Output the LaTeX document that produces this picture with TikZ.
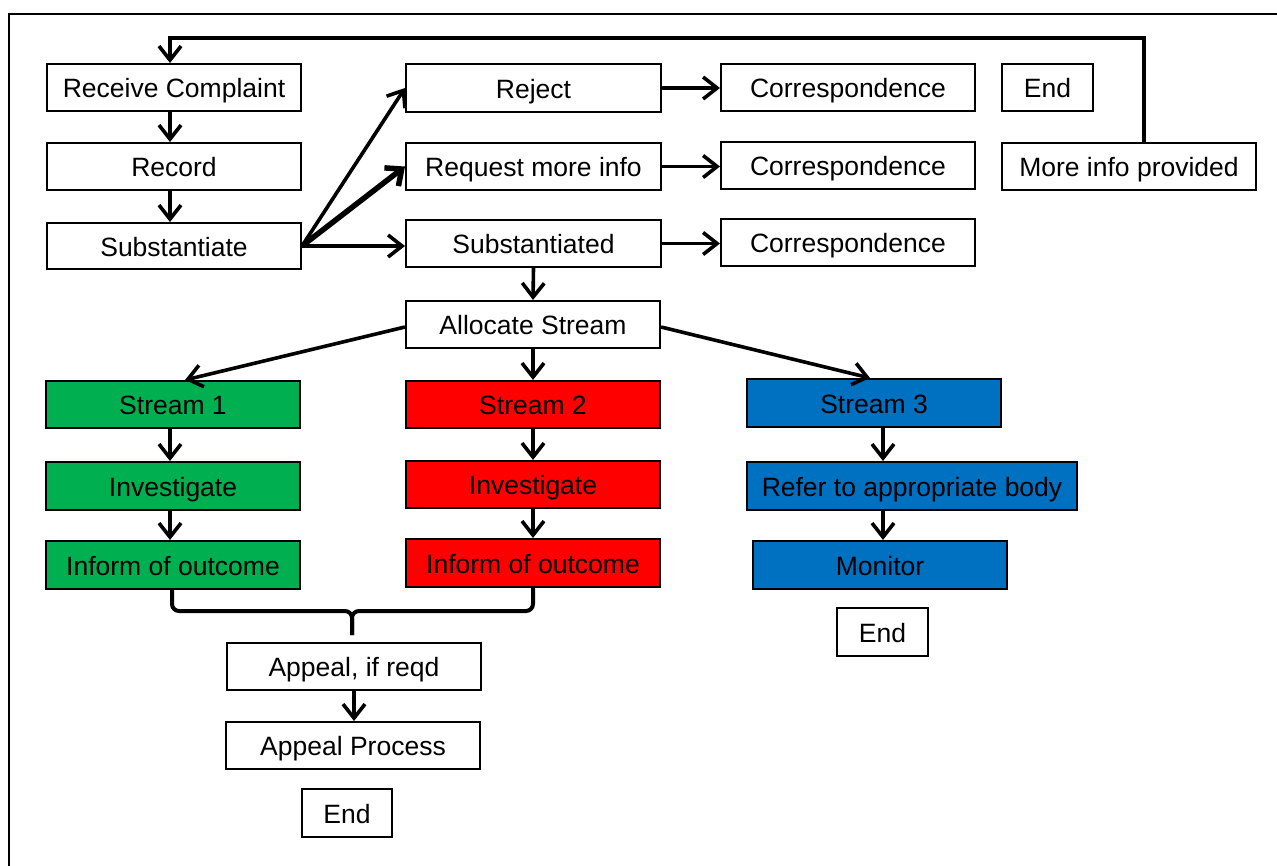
\documentclass[tikz,border=0pt]{standalone}
\usepackage{fontspec}
\setmainfont{Liberation Sans}
\usetikzlibrary{arrows.meta,calc}
\definecolor{sgreen}{HTML}{00B050}
\definecolor{sred}{HTML}{FF0000}
\definecolor{sblue}{HTML}{0070C0}
\begin{document}
\begin{tikzpicture}[x=1pt,y=-1pt,
  box/.style={draw=black, line width=2pt, fill=white, inner sep=0pt,
    minimum width=254pt, minimum height=47pt, text height=20pt, text depth=0pt,
    font=\fontsize{26.5pt}{31pt}\selectfont},
  gbox/.style={box, fill=sgreen},
  rbox/.style={box, fill=sred},
  bbox/.style={box, fill=sblue},
  arr/.style={line width=3.6pt, -{Straight Barb[length=14pt,width=22pt]}},
  thickarr/.style={line width=5.5pt, -{Straight Barb[length=13pt,width=23pt]}},
  bracket/.style={line width=4pt, rounded corners=7pt},
  frame/.style={line width=2.4pt}]
\useasboundingbox (0,0) rectangle (1277,865);
\fill[white] (0,0) rectangle (1277,865);

% outer frame (cut off at right and bottom)
\draw[frame] (9,880) -- (9,14) -- (1290,14);

% top row
\node[box] (rc)   at (174,87.5)  {Receive Complaint};
\node[box] (rec)  at (174,166.5) {Record};
\node[box, minimum height=46pt] (sub) at (174,246) {Substantiate};
\node[box, minimum width=255pt, minimum height=48pt] (rej) at (533.5,88) {Reject};
\node[box, minimum width=255pt] (req) at (533.5,166.5) {Request more info};
\node[box, minimum width=255pt] (subd) at (533.5,243.5) {Substantiated};
\node[box] (c1) at (848,87.5)  {Correspondence};
\node[box] (c2) at (848,165.5) {Correspondence};
\node[box] (c3) at (848,242.5) {Correspondence};
\node[box, minimum width=91pt] (end1) at (1047.5,87.5) {End};
\node[box] (more) at (1129,166.5) {More info provided};

% allocation
\node[box] (alloc) at (533,324.5) {Allocate Stream};

% streams
\node[gbox] (s1)   at (173,404.5) {Stream 1};
\node[gbox, minimum height=48pt] (inv1) at (173,486) {Investigate};
\node[gbox, minimum height=48pt] (inf1) at (173,565) {Inform of outcome};
\node[rbox] (s2)   at (533,404.5) {Stream 2};
\node[rbox] (inv2) at (533,484.5) {Investigate};
\node[rbox, minimum height=48pt] (inf2) at (533,563) {Inform of outcome};
\node[bbox, minimum height=48pt] (s3)  at (874,403) {Stream 3};
\node[bbox, minimum width=330pt, minimum height=48pt] (ref) at (912,486) {Refer to appropriate body};
\node[bbox, minimum height=48pt] (mon) at (880,565) {Monitor};
\node[box, minimum width=91pt, minimum height=48pt] (end2) at (882.5,632) {End};

% appeal
\node[box] (app)  at (354,666.5) {Appeal, if reqd};
\node[box] (appp) at (353,745.5) {Appeal Process};
\node[box, minimum width=90pt, minimum height=48pt] (end3) at (347,813) {End};

% feedback loop
\coordinate (fbr) at (1144,38);
\coordinate (fbl) at (170,38);
\draw[arr, line join=miter] (more.north -| fbr) -- (fbr) -- (fbl) -- (rc.north -| fbl);

% left column
\coordinate (lc) at (170,0);
\draw[arr] (rc.south -| lc) -- (rec.north -| lc);
\draw[arr] (rec.south -| lc) -- (sub.north -| lc);

% from substantiate
\draw[arr] (sub.east) -- (rej.west);
\draw[thickarr] (sub.east) -- (req.west);
\draw[arr] (sub.east) -- (sub.east -| subd.west);

% to correspondence
\draw[arr] (rej.east) -- (rej.east -| c1.west);
\draw[arr] (req.east) -- (req.east -| c2.west);
\draw[arr] (subd.east) -- (subd.east -| c3.west);

% to allocation
\draw[arr] (subd.south) -- (alloc.north);

% allocation to streams
\draw[arr] ($(alloc.west)+(0,2.5)$) -- ($(s1.north)+(12,0)$);
\draw[arr] (alloc.south) -- (s2.north);
\draw[arr] ($(alloc.east)+(0,2.5)$) -- ($(s3.north)+(-4,0)$);

% stream 1
\draw[arr] (s1.south -| lc) -- (inv1.north -| lc);
\draw[arr] (inv1.south -| lc) -- (inf1.north -| lc);
% stream 2
\draw[arr] (s2.south) -- (inv2.north);
\draw[arr] (inv2.south) -- (inf2.north);
% stream 3
\coordinate (c3x) at (883,0);
\draw[arr] (s3.south -| c3x) -- (ref.north -| c3x);
\draw[arr] (ref.south -| c3x) -- (mon.north -| c3x);

% bracket joining streams 1 and 2
\coordinate (bj) at (352,611);
\coordinate (bstem) at (352,635);
\draw[bracket] ($(inf1.south)+(-1,0)$) |- (bj) -- (bstem);
\draw[bracket] (inf2.south) |- (bj) -- (bstem);

% appeal
\draw[arr] (app.south) -- (app.south |- appp.north);
\end{tikzpicture}
\end{document}
